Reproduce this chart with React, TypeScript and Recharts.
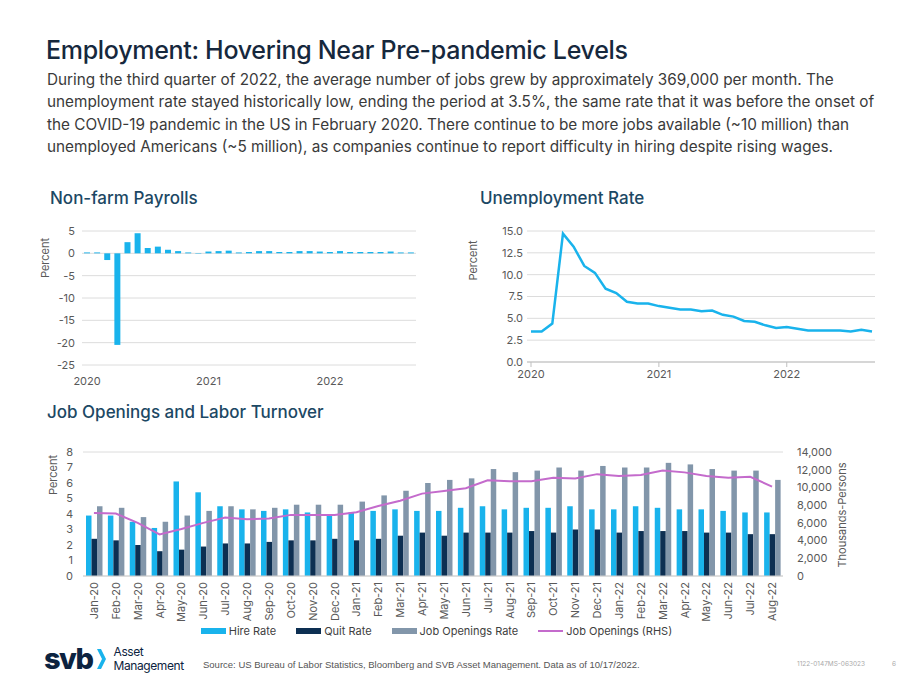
import React from "react";
import {
  BarChart,
  Bar,
  LineChart,
  Line,
  ComposedChart,
  XAxis,
  YAxis,
  CartesianGrid,
  Legend,
  Label,
} from "recharts";

const FONT = "Inter, 'Noto Sans', sans-serif";
const NAVY = "#16283d";
const TEAL = "#1c4864";
const HIRE = "#19b3ec"; // light blue
const QUIT = "#0d2f52"; // navy
const OPEN = "#8296aa"; // grey-blue
const LINE = "#c46bcc"; // purple
const GRID = "#dcdcdc";
const TICK = "#595959";

// monthly, Jan 2020 - Sep 2022
const months = [
  "2020-01", "2020-02", "2020-03", "2020-04", "2020-05", "2020-06",
  "2020-07", "2020-08", "2020-09", "2020-10", "2020-11", "2020-12",
  "2021-01", "2021-02", "2021-03", "2021-04", "2021-05", "2021-06",
  "2021-07", "2021-08", "2021-09", "2021-10", "2021-11", "2021-12",
  "2022-01", "2022-02", "2022-03", "2022-04", "2022-05", "2022-06",
  "2022-07", "2022-08", "2022-09",
];
const yearTicks = ["2020-01", "2021-01", "2022-01"];

const payrollChange = [
  0.2, 0.2, -1.5, -20.5, 2.5, 4.5, 1.2, 1.5, 0.8, 0.5, 0.2, -0.1,
  0.4, 0.5, 0.6, 0.2, 0.3, 0.5, 0.5, 0.3, 0.3, 0.5, 0.5, 0.4,
  0.3, 0.5, 0.3, 0.3, 0.3, 0.3, 0.4, 0.2, 0.2,
];

const unemploymentRate = [
  3.5, 3.5, 4.4, 14.7, 13.2, 11.0, 10.2, 8.4, 7.9, 6.9, 6.7, 6.7,
  6.4, 6.2, 6.0, 6.0, 5.8, 5.9, 5.4, 5.2, 4.7, 4.6, 4.2, 3.9,
  4.0, 3.8, 3.6, 3.6, 3.6, 3.6, 3.5, 3.7, 3.5,
];

// JOLTS, Jan-20 - Aug-22
const joltsMonths = [
  "Jan-20", "Feb-20", "Mar-20", "Apr-20", "May-20", "Jun-20",
  "Jul-20", "Aug-20", "Sep-20", "Oct-20", "Nov-20", "Dec-20",
  "Jan-21", "Feb-21", "Mar-21", "Apr-21", "May-21", "Jun-21",
  "Jul-21", "Aug-21", "Sep-21", "Oct-21", "Nov-21", "Dec-21",
  "Jan-22", "Feb-22", "Mar-22", "Apr-22", "May-22", "Jun-22",
  "Jul-22", "Aug-22",
];
const hireRate = [
  3.9, 3.9, 3.5, 3.1, 6.1, 5.4, 4.5, 4.3, 4.2, 4.3, 4.1, 3.9,
  4.1, 4.2, 4.3, 4.2, 4.2, 4.4, 4.5, 4.3, 4.4, 4.4, 4.5, 4.3,
  4.3, 4.5, 4.4, 4.3, 4.3, 4.2, 4.1, 4.1,
];
const quitRate = [
  2.4, 2.3, 2.0, 1.6, 1.7, 1.9, 2.1, 2.1, 2.2, 2.3, 2.3, 2.4,
  2.3, 2.4, 2.6, 2.8, 2.6, 2.8, 2.8, 2.8, 2.9, 2.8, 3.0, 3.0,
  2.8, 2.9, 2.9, 2.9, 2.8, 2.8, 2.7, 2.7,
];
const openingsRate = [
  4.5, 4.4, 3.8, 3.5, 3.9, 4.2, 4.5, 4.3, 4.4, 4.6, 4.6, 4.6,
  4.8, 5.2, 5.5, 6.0, 6.2, 6.3, 6.9, 6.7, 6.8, 7.0, 6.8, 7.1,
  7.0, 7.0, 7.3, 7.2, 6.9, 6.8, 6.8, 6.2,
];
const openingsLevel = [
  7100, 7050, 6000, 4700, 5300, 6000, 6600, 6400, 6500, 6900, 6900, 6900,
  7200, 7900, 8500, 9300, 9600, 9900, 10800, 10700, 10700, 11100, 11000, 11500,
  11300, 11400, 11900, 11700, 11300, 11100, 11200, 10100,
];
const legendOrder = ["Hire Rate", "Quit Rate", "Job Openings Rate", "Job Openings (RHS)"];

const bodyLines = [
  "During the third quarter of 2022, the average number of jobs grew by approximately 369,000 per month. The",
  "unemployment rate stayed historically low, ending the period at 3.5%, the same rate that it was before the onset of",
  "the COVID-19 pandemic in the US in February 2020. There continue to be more jobs available (~10 million) than",
  "unemployed Americans (~5 million), as companies continue to report difficulty in hiring despite rising wages.",
];

const monthlyData = months.map((m, i) => ({
  month: m,
  payroll: payrollChange[i],
  rate: unemploymentRate[i],
}));

const joltsData = joltsMonths.map((m, i) => ({
  month: m,
  hire: hireRate[i],
  quit: quitRate[i],
  openRate: openingsRate[i],
  openings: openingsLevel[i],
}));

const tickStyle = { fontSize: 11, fill: TICK };

// rotated axis title, placed relative to the axis box
const axisTitle = (text: string, dx: number, dy: number) => (props: any) => {
  const vb = props.viewBox || { x: 0, y: 0, width: 0, height: 0 };
  const x = vb.x + dx;
  const y = vb.y + vb.height / 2 + dy;
  return (
    <text
      x={x}
      y={y}
      transform={`rotate(-90 ${x} ${y})`}
      textAnchor="middle"
      dominantBaseline="central"
      fontSize={11}
      fill={TICK}
    >
      {text}
    </text>
  );
};

const MonthTick = (props: any) => {
  const { x, y, payload } = props;
  const ty = y + 2;
  return (
    <text
      x={x}
      y={ty}
      transform={`rotate(-90 ${x} ${ty})`}
      textAnchor="end"
      dominantBaseline="central"
      fontSize={11}
      fill={TICK}
    >
      {payload.value}
    </text>
  );
};

const JoltsLegend = (props: any) => {
  const items = [...(props.payload || [])].sort(
    (a: any, b: any) => legendOrder.indexOf(a.value) - legendOrder.indexOf(b.value)
  );
  return (
    <div style={{ display: "flex", justifyContent: "center", gap: 20, fontSize: 11, color: "#404040", paddingTop: 4 }}>
      {items.map((e: any) => (
        <span key={e.value} style={{ display: "flex", alignItems: "center" }}>
          <span
            style={{
              display: "inline-block",
              width: 25,
              height: e.type === "line" ? 2 : 6,
              background: e.color,
            }}
          />
          <span style={{ marginLeft: 3 }}>{e.value}</span>
        </span>
      ))}
    </div>
  );
};

const sectionTitle: React.CSSProperties = {
  position: "absolute",
  fontSize: 17,
  fontWeight: 500,
  color: TEAL,
  whiteSpace: "nowrap",
  lineHeight: "22px",
};

export default function App() {
  return (
    <div
      style={{
        position: "absolute",
        left: 0,
        top: 0,
        width: 920,
        height: 690,
        background: "#fff",
        fontFamily: FONT,
        overflow: "hidden",
      }}
    >
      <div
        style={{
          position: "absolute",
          left: 46,
          top: 34,
          fontSize: 25,
          fontWeight: 500,
          color: NAVY,
          lineHeight: "32px",
          whiteSpace: "nowrap",
          letterSpacing: -0.3,
        }}
      >
        Employment: Hovering Near Pre-pandemic Levels
      </div>
      <div style={{ position: "absolute", left: 47, top: 69, fontSize: 15.3, color: "#3a3a3a", lineHeight: "22.4px" }}>
        {bodyLines.map((l) => (
          <div key={l} style={{ whiteSpace: "nowrap" }}>{l}</div>
        ))}
      </div>

      {/* Non-farm payrolls */}
      <div style={{ ...sectionTitle, left: 50, top: 187 }}>Non-farm Payrolls</div>
      <div style={{ position: "absolute", left: 26, top: 220 }}>
        <BarChart width={400} height={175} data={monthlyData} margin={{ top: 11, right: 10, left: 26, bottom: 0 }}>
          <CartesianGrid vertical={false} stroke={GRID} />
          <XAxis
            dataKey="month"
            interval={0}
            axisLine={false}
            tickLine={false}
            tick={tickStyle}
            height={30}
            tickMargin={6}
            tickFormatter={(m: string) => (m.endsWith("-01") ? m.slice(0, 4) : "")}
          />
          <YAxis
            domain={[-25, 5]}
            ticks={[-25, -20, -15, -10, -5, 0, 5]}
            interval={0}
            width={30}
            axisLine={false}
            tickLine={false}
            tickSize={0}
            tickMargin={7}
            tick={tickStyle}
          >
            <Label content={axisTitle("Percent", -7, -40)} />
          </YAxis>
          <Bar dataKey="payroll" fill={HIRE} barSize={6} isAnimationActive={false} />
        </BarChart>
      </div>

      {/* Unemployment rate */}
      <div style={{ ...sectionTitle, left: 480, top: 187 }}>Unemployment Rate</div>
      <div style={{ position: "absolute", left: 460, top: 220 }}>
        <LineChart width={425} height={175} data={monthlyData} margin={{ top: 11, right: 10, left: 20, bottom: 0 }}>
          <CartesianGrid vertical={false} stroke={GRID} />
          <XAxis
            dataKey="month"
            ticks={yearTicks}
            interval={0}
            axisLine={{ stroke: "#bfbfbf" }}
            tickLine={{ stroke: "#bfbfbf" }}
            tickSize={5}
            tickMargin={3}
            tick={tickStyle}
            height={33}
            padding={{ left: 4, right: 3 }}
            tickFormatter={(m: string) => m.slice(0, 4)}
          />
          <YAxis
            domain={[0, 15]}
            ticks={[0, 2.5, 5, 7.5, 10, 12.5, 15]}
            interval={0}
            width={47}
            axisLine={false}
            tickLine={false}
            tickSize={0}
            tickMargin={4}
            tick={tickStyle}
            tickFormatter={(v: number) => v.toFixed(1)}
          >
            <Label content={axisTitle("Percent", -7, -36)} />
          </YAxis>
          <Line type="linear" dataKey="rate" stroke={HIRE} strokeWidth={2.5} dot={false} isAnimationActive={false} />
        </LineChart>
      </div>

      {/* JOLTS */}
      <div style={{ ...sectionTitle, left: 47, top: 401 }}>Job Openings and Labor Turnover</div>
      <div style={{ position: "absolute", left: 40, top: 440 }}>
        <ComposedChart width={820} height={204} data={joltsData} margin={{ top: 12, right: 27, left: 0, bottom: 0 }} barGap={0}>
          <CartesianGrid vertical={false} stroke={GRID} />
          <XAxis
            dataKey="month"
            interval={0}
            axisLine={{ stroke: "#d0d0d0" }}
            tickLine={false}
            tickSize={4}
            tickMargin={0}
            tick={<MonthTick />}
            height={44}
          />
          <YAxis
            yAxisId="left"
            domain={[0, 8]}
            ticks={[0, 1, 2, 3, 4, 5, 6, 7, 8]}
            interval={0}
            width={43}
            axisLine={false}
            tickLine={false}
            tickSize={0}
            tickMargin={10}
            tick={tickStyle}
          >
            <Label content={axisTitle("Percent", 13, -39)} />
          </YAxis>
          <YAxis
            yAxisId="right"
            orientation="right"
            domain={[0, 14000]}
            ticks={[0, 2000, 4000, 6000, 8000, 10000, 12000, 14000]}
            interval={0}
            width={50}
            axisLine={false}
            tickLine={false}
            tickSize={0}
            tickMargin={14}
            tick={tickStyle}
            tickFormatter={(v: number) => v.toLocaleString("en-US")}
          >
            <Label content={axisTitle("Thousands-Persons", 59, 1)} />
          </YAxis>
          <Legend verticalAlign="bottom" height={24} content={<JoltsLegend />} />
          <Bar yAxisId="left" dataKey="hire" name="Hire Rate" fill={HIRE} barSize={5.5} isAnimationActive={false} />
          <Bar yAxisId="left" dataKey="quit" name="Quit Rate" fill={QUIT} barSize={5.5} isAnimationActive={false} />
          <Bar yAxisId="left" dataKey="openRate" name="Job Openings Rate" fill={OPEN} barSize={5.5} isAnimationActive={false} />
          <Line
            yAxisId="right"
            type="linear"
            dataKey="openings"
            name="Job Openings (RHS)"
            stroke={LINE}
            strokeWidth={2}
            dot={false}
            isAnimationActive={false}
          />
        </ComposedChart>
      </div>

      {/* footer */}
      <div style={{ position: "absolute", left: 44, top: 642, display: "flex", alignItems: "center" }}>
        <span style={{ fontSize: 29, fontWeight: 800, color: "#0c2340", letterSpacing: -1.5, lineHeight: "34px" }}>svb</span>
        <svg width={11} height={22} style={{ marginLeft: 3 }}>
          <polygon points="1,1 5,1 10,11 5,21 1,21 6,11" fill={HIRE} />
        </svg>
        <div style={{ marginLeft: 7, fontSize: 12, color: "#0c2340", lineHeight: "14.5px", letterSpacing: -0.4 }}>
          <div>Asset</div>
          <div>Management</div>
        </div>
      </div>
      <div
        style={{
          position: "absolute",
          left: 203,
          top: 659,
          fontSize: 9.5,
          color: "#555",
          fontFamily: "'Liberation Sans', Arial, sans-serif",
          whiteSpace: "nowrap",
        }}
      >
        Source: US Bureau of Labor Statistics, Bloomberg and SVB Asset Management. Data as of 10/17/2022.
      </div>
      <div style={{ position: "absolute", left: 797, top: 660, fontSize: 6.5, color: "#aaa", whiteSpace: "nowrap" }}>
        1122-0147MS-063023
      </div>
      <div style={{ position: "absolute", left: 892, top: 660, fontSize: 6.5, color: "#aaa" }}>6</div>
    </div>
  );
}
